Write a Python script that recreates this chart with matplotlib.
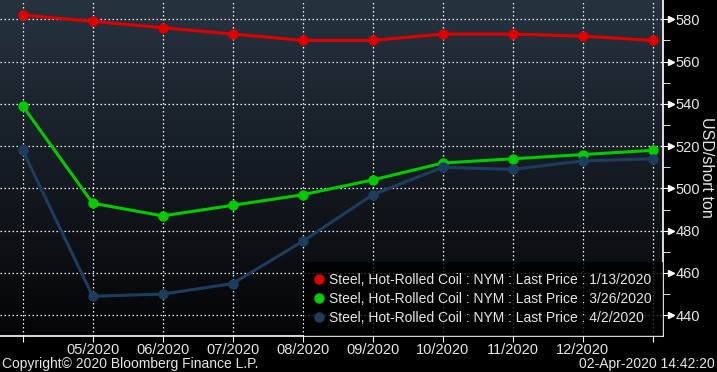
import matplotlib
matplotlib.use("Agg")
import matplotlib.pyplot as plt
import matplotlib.transforms as mtransforms
import numpy as np

# contract months (04/2020 .. 01/2021)
months = ['04/2020', '05/2020', '06/2020', '07/2020', '08/2020', '09/2020',
          '10/2020', '11/2020', '12/2020', '01/2021']
red_vals = [582, 579, 576, 573, 570, 570, 573, 573, 572, 570]
green_vals = [539, 493, 487, 492, 497, 504, 512, 514, 516, 518]
blue_vals = [518, 449, 450, 455, 475, 497, 510, 509, 513, 514]
labels = ['Steel, Hot-Rolled Coil : NYM : Last Price : 1/13/2020',
          'Steel, Hot-Rolled Coil : NYM : Last Price : 3/26/2020',
          'Steel, Hot-Rolled Coil : NYM : Last Price : 4/2/2020']
colors = ['#e00000', '#00cc00', '#1d3d5f']
y_ticks = [440, 460, 480, 500, 520, 540, 560, 580]

plt.rcParams['font.family'] = ['Liberation Sans', 'DejaVu Sans']
txt = '#e6e6e6'

fig = plt.figure(figsize=(7.17, 3.72), dpi=100, facecolor='black')
ax = fig.add_axes([0.0, 0.0968, 0.9247, 0.9032])
ax.set_facecolor('black')

# gradient background
grad = np.linspace(0, 1, 256).reshape(-1, 1)
top = np.array([38, 51, 63]) / 255.0
bot = np.array([4, 4, 6]) / 255.0
img = top[None, None, :] * (1 - grad[:, :, None]) + bot[None, None, :] * grad[:, :, None]
ax.imshow(img, extent=[0, 1, 0, 1], transform=ax.transAxes, aspect='auto', zorder=0)

x = np.arange(len(months))
for vals, c, lab in zip([red_vals, green_vals, blue_vals], colors, labels):
    ax.plot(x, vals, color=c, lw=2.2, marker='o', ms=6.5, label=lab, zorder=3)

ax.set_xlim(-0.324, 9.147)
ax.set_ylim(430.2, 589.1)

ax.set_xticks(x)
ax.set_xticklabels([''] + months[1:9] + [''])
ax.set_yticks(y_ticks)
ax.set_yticks(np.arange(450, 590, 20), minor=True)
ax.yaxis.tick_right()

ax.grid(True, color='white', ls=(0, (1.2, 2)), lw=0.9, zorder=1)
for s in ['left', 'top']:
    ax.spines[s].set_visible(False)
for s in ['right', 'bottom']:
    ax.spines[s].set_color('white')
    ax.spines[s].set_linewidth(1.2)

ax.tick_params(axis='x', colors='white', labelcolor=txt, labelsize=10.5, length=4, pad=1)
ax.tick_params(axis='y', which='major', colors='white', labelcolor=txt, labelsize=10.5,
               length=8, pad=1)
ax.tick_params(axis='y', which='minor', colors='white', length=5)

# little arrow heads on the y ticks
trans = mtransforms.blended_transform_factory(ax.transAxes, ax.transData)
for v in y_ticks:
    ax.plot([1.0125], [v], marker='>', ms=4.5, color='white', transform=trans,
            clip_on=False, zorder=5)

fig.text(0.985, 0.55, 'USD/short ton', color=txt, fontsize=11.5, rotation=-90,
         ha='center', va='center')

leg = ax.legend(loc='lower right', bbox_to_anchor=(1.0, 0.0), borderaxespad=0,
                fontsize=10, frameon=True, handlelength=0.6, handletextpad=0.45,
                labelspacing=0.35, borderpad=0.8, markerscale=1.0)
leg.get_frame().set_facecolor('black')
leg.get_frame().set_alpha(0.8)
leg.get_frame().set_edgecolor('none')
leg.get_frame().set_boxstyle('square', pad=0)
for h in leg.get_lines():
    h.set_linestyle('none')
for t in leg.get_texts():
    t.set_color(txt)

fig.text(0.003, 0.012, 'Copyright\u00a9 2020 Bloomberg Finance L.P.', color=txt, fontsize=10)
fig.text(0.997, 0.012, '02-Apr-2020 14:42:20', color=txt, fontsize=10, ha='right')

fig.savefig('out.png', dpi=100, facecolor='black')
